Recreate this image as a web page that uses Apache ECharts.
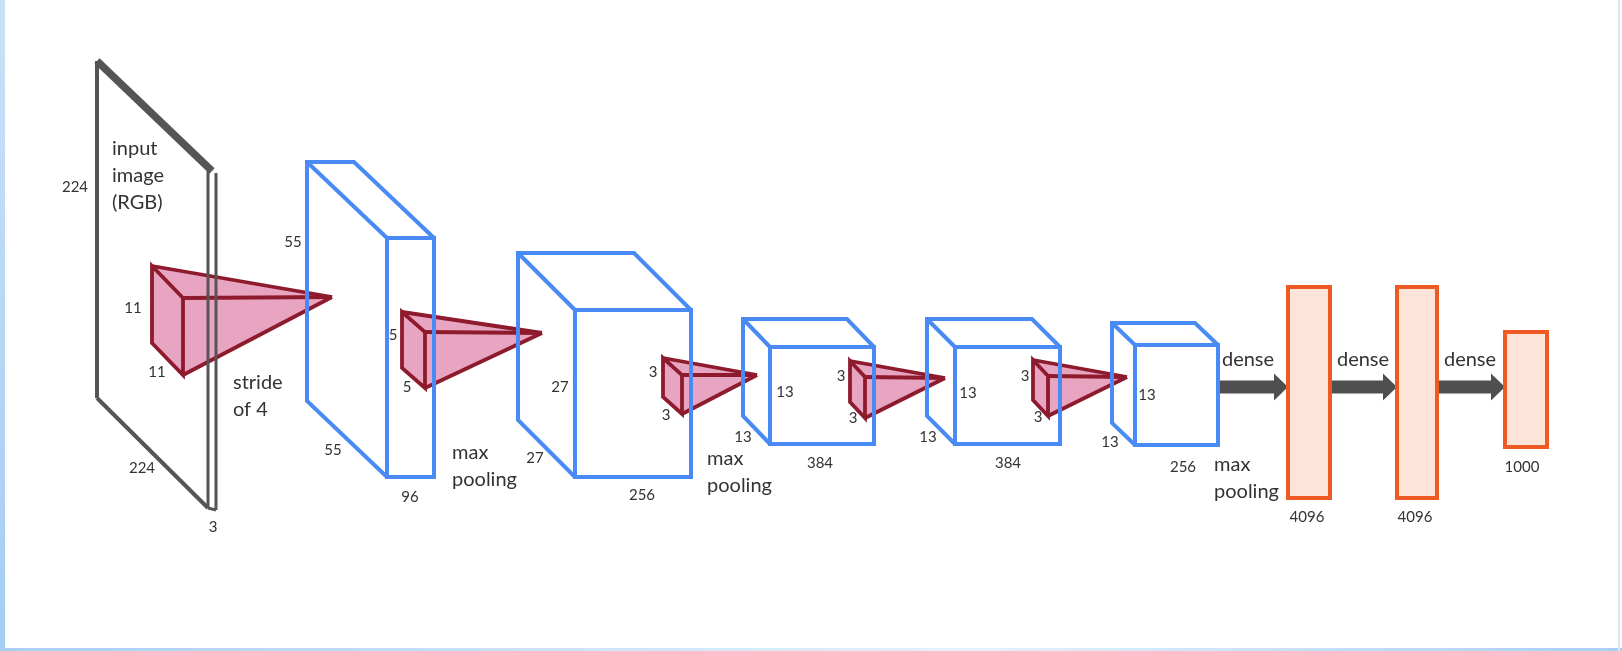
<!DOCTYPE html>
<html>
<head>
<meta charset="utf-8">
<title>AlexNet</title>
<script src="https://cdn.jsdelivr.net/npm/echarts@6/dist/echarts.min.js"></script>
<style>
  html, body { margin: 0; padding: 0; background: #fff; }
  #main { width: 1622px; height: 651px; }
</style>
</head>
<body>
<div id="main"></div>
<script>
// ---- values of the network ----
var inputSize = 224;
var inputChannels = 3;
var spatialDims = [55, 27, 13, 13, 13];       // conv block height / width
var channelDims = [96, 256, 384, 384, 256];   // conv block depth
var kernelSizes = [11, 5, 3, 3, 3];
var denseUnits = [4096, 4096, 1000];
var inputNote = 'input\nimage\n(RGB)';
var strideNote = 'stride\nof 4';
var poolNote = 'max\npooling';
var denseNote = 'dense';

// ---- layout, in pixel units of the hidden axes ----
// plane: left x, top y, front x, skew dy, height, thickness
var planeGeom = [97, 61, 208, 110, 337, 8];
// blocks: back x, back y, dx, dy, w, h
var blockGeom = [
  [307, 162, 80, 76, 47, 239],
  [518, 253, 57, 57, 116, 167],
  [743, 319, 27, 28, 104, 97],
  [927, 319, 28, 28, 105, 97],
  [1112, 323, 23, 22, 83, 100]
];
// kernels: back x, back y, dx, dy, h, apex x, apex y
var kernelGeom = [
  [152, 266, 31, 32, 77, 332, 297],
  [402, 312, 23, 20, 56, 542, 333],
  [663, 358, 19, 17, 39, 757, 375],
  [850, 361, 15, 16, 41, 945, 378],
  [1033, 360, 15, 16, 40, 1127, 377]
];
// dense boxes: x, y, w, h
var denseGeom = [
  [1288, 287, 42, 211],
  [1397, 287, 40, 211],
  [1505, 332, 42, 115]
];
// arrows: x start, x tip, y
var arrowGeom = [
  [1220, 1288, 387],
  [1330, 1397, 387],
  [1437, 1505, 387]
];
// label anchors
var planeLabelPos = [[75, 187], [142, 468], [213, 527]];
var blockLabelPos = [
  [[293, 242], [333, 450], [410, 497]],
  [[560, 387], [535, 458], [642, 495]],
  [[785, 392], [743, 437], [820, 463]],
  [[968, 393], [928, 437], [1008, 463]],
  [[1147, 395], [1110, 442], [1183, 467]]
];
var kernelLabelPos = [
  [[133, 308], [157, 372]],
  [[393, 335], [407, 387]],
  [[653, 372], [666, 415]],
  [[841, 376], [853, 418]],
  [[1025, 376], [1038, 417]]
];
var denseLabelPos = [[1307, 517], [1415, 517], [1522, 467]];
var denseNotePos = [[1248, 360], [1363, 360], [1470, 360]];
var inputNotePos = [112, 176];
var strideNotePos = [233, 396];
var poolNotePos = [[452, 466], [707, 472], [1214, 478]];

var BLUE = '#4a8af4';
var RED = '#8e1b2d';
var PINK = '#e8a5c2';
var GRAY = '#555555';
var ORANGE = '#ee5a24';
var TEXT = '#333333';
var FONT = 'Lato, "Open Sans", sans-serif';
var NUM_SIZE = 15;
var NOTE_SIZE = 20;

// build the text table
var labels = [];
labels.push([planeLabelPos[0], String(inputSize), NUM_SIZE, 'center']);
labels.push([planeLabelPos[1], String(inputSize), NUM_SIZE, 'center']);
labels.push([planeLabelPos[2], String(inputChannels), NUM_SIZE, 'center']);
blockLabelPos.forEach(function (p, i) {
  labels.push([p[0], String(spatialDims[i]), NUM_SIZE, 'center']);
  labels.push([p[1], String(spatialDims[i]), NUM_SIZE, 'center']);
  labels.push([p[2], String(channelDims[i]), NUM_SIZE, 'center']);
});
kernelLabelPos.forEach(function (p, i) {
  labels.push([p[0], String(kernelSizes[i]), NUM_SIZE, 'center']);
  labels.push([p[1], String(kernelSizes[i]), NUM_SIZE, 'center']);
});
denseLabelPos.forEach(function (p, i) {
  labels.push([p, String(denseUnits[i]), NUM_SIZE, 'center']);
});
denseNotePos.forEach(function (p) {
  labels.push([p, denseNote, NOTE_SIZE, 'center']);
});
labels.push([inputNotePos, inputNote, NOTE_SIZE, 'left']);
labels.push([strideNotePos, strideNote, NOTE_SIZE, 'left']);
poolNotePos.forEach(function (p) {
  labels.push([p, poolNote, NOTE_SIZE, 'left']);
});

function P(api, x, y) { return api.coord([x, y]); }

function lineEl(api, pts, color, width, closed) {
  return {
    type: closed ? 'polygon' : 'polyline',
    shape: { points: pts.map(function (q) { return P(api, q[0], q[1]); }) },
    style: { stroke: color, lineWidth: width, fill: closed ? 'none' : null, lineJoin: 'miter' }
  };
}

var chart = echarts.init(document.getElementById('main'), null, { renderer: 'canvas' });

var option = {
  backgroundColor: '#ffffff',
  animation: false,
  grid: { left: 0, right: 0, top: 0, bottom: 0 },
  xAxis: { type: 'value', min: 0, max: 1622, show: false },
  yAxis: { type: 'value', min: 0, max: 651, inverse: true, show: false },
  graphic: [
    {
      type: 'rect', shape: { x: 0, y: 0, width: 5, height: 651 }, z: 0,
      style: { fill: new echarts.graphic.LinearGradient(0, 0, 0, 1, [
        { offset: 0, color: '#c9e1f8' }, { offset: 1, color: '#a4cdf3' }]) }
    },
    { type: 'rect', shape: { x: 0, y: 648, width: 1622, height: 3 }, z: 0,
      style: { fill: new echarts.graphic.LinearGradient(0, 0, 1, 0, [
        { offset: 0, color: '#a8cff2' }, { offset: 0.6, color: '#e6f1fb' }, { offset: 1, color: '#a8cff2' }]) } },
    { type: 'rect', shape: { x: 1618, y: 0, width: 2, height: 651 }, z: 0, style: { fill: '#dfe8f0' } }
  ],
  series: [
    {
      // pink kernels (under the blocks)
      type: 'custom',
      coordinateSystem: 'cartesian2d',
      clip: false,
      z: 2,
      data: kernelGeom.map(function (g) { return [g[0], g[1]]; }),
      renderItem: function (params, api) {
        var g = kernelGeom[params.dataIndex];
        var bx = g[0], by = g[1], dx = g[2], dy = g[3], h = g[4], ax = g[5], ay = g[6];
        var fx = bx + dx, fy = by + dy;
        return {
          type: 'group',
          children: [
            {
              type: 'polygon',
              shape: { points: [P(api, bx, by), P(api, ax, ay), P(api, fx, fy + h), P(api, bx, by + h)] },
              style: { fill: PINK, stroke: null }
            },
            lineEl(api, [[bx, by], [fx, fy], [fx, fy + h], [bx, by + h]], RED, 3.8, true),
            lineEl(api, [[bx, by], [ax, ay]], RED, 3.8),
            lineEl(api, [[fx, fy], [ax, ay]], RED, 3.8),
            lineEl(api, [[fx, fy + h], [ax, ay]], RED, 3.8)
          ]
        };
      }
    },
    {
      // input image plane
      type: 'custom',
      coordinateSystem: 'cartesian2d',
      clip: false,
      z: 3,
      data: [[planeGeom[0], planeGeom[1]]],
      renderItem: function (params, api) {
        var g = planeGeom;
        var lx = g[0], ty = g[1], rx = g[2], sk = g[3], h = g[4], t = g[5];
        return {
          type: 'group',
          children: [
            lineEl(api, [[lx, ty + h], [lx, ty]], GRAY, 4),
            lineEl(api, [[lx, ty], [rx + t / 2, ty + sk]], GRAY, 7.5),
            lineEl(api, [[lx, ty + h], [rx, ty + h + sk]], GRAY, 4),
            lineEl(api, [[rx, ty + sk], [rx, ty + h + sk]], GRAY, 3),
            lineEl(api, [[rx + t, ty + sk + 2], [rx + t, ty + h + sk + 2]], GRAY, 3),
            lineEl(api, [[rx, ty + h + sk], [rx + t, ty + h + sk + 2]], GRAY, 3)
          ]
        };
      }
    },
    {
      // blue conv blocks
      type: 'custom',
      coordinateSystem: 'cartesian2d',
      clip: false,
      z: 4,
      data: blockGeom.map(function (g) { return [g[0], g[1]]; }),
      renderItem: function (params, api) {
        var g = blockGeom[params.dataIndex];
        var bx = g[0], by = g[1], dx = g[2], dy = g[3], w = g[4], h = g[5];
        var fx = bx + dx, fy = by + dy;
        return {
          type: 'group',
          children: [
            lineEl(api, [[fx, fy + h], [bx, by + h], [bx, by], [bx + w, by], [fx + w, fy]], BLUE, 4),
            lineEl(api, [[bx, by], [fx, fy]], BLUE, 4),
            lineEl(api, [[fx, fy], [fx + w, fy], [fx + w, fy + h], [fx, fy + h]], BLUE, 4, true)
          ]
        };
      }
    },
    {
      // dense layers
      type: 'custom',
      coordinateSystem: 'cartesian2d',
      clip: false,
      z: 4,
      data: denseGeom.map(function (g) { return [g[0], g[1]]; }),
      renderItem: function (params, api) {
        var g = denseGeom[params.dataIndex];
        var a = P(api, g[0], g[1]), b = P(api, g[0] + g[2], g[1] + g[3]);
        return {
          type: 'rect',
          shape: { x: a[0], y: a[1], width: b[0] - a[0], height: b[1] - a[1] },
          style: { fill: '#fde4d9', stroke: ORANGE, lineWidth: 4 }
        };
      }
    },
    {
      // dense arrows
      type: 'custom',
      coordinateSystem: 'cartesian2d',
      clip: false,
      z: 3,
      data: arrowGeom.map(function (g) { return [g[0], g[2]]; }),
      renderItem: function (params, api) {
        var g = arrowGeom[params.dataIndex];
        var x0 = g[0], x1 = g[1], y = g[2], hl = 14, st = 6.5, hh = 13.5;
        var pts = [[x0, y - st], [x1 - hl, y - st], [x1 - hl, y - hh], [x1, y],
                   [x1 - hl, y + hh], [x1 - hl, y + st], [x0, y + st]];
        return {
          type: 'polygon',
          shape: { points: pts.map(function (q) { return P(api, q[0], q[1]); }) },
          style: { fill: '#4f4f4f' }
        };
      }
    },
    {
      // all text
      type: 'custom',
      coordinateSystem: 'cartesian2d',
      clip: false,
      z: 6,
      data: labels.map(function (l) { return [l[0][0], l[0][1]]; }),
      renderItem: function (params, api) {
        var l = labels[params.dataIndex];
        var c = P(api, l[0][0], l[0][1]);
        return {
          type: 'text',
          x: c[0], y: c[1],
          style: {
            text: l[1],
            fill: TEXT,
            fontSize: l[2],
            fontFamily: FONT,
            lineHeight: l[2] === NOTE_SIZE ? 27 : 17,
            align: l[3],
            verticalAlign: 'middle'
          }
        };
      }
    }
  ]
};

chart.setOption(option);
</script>
</body>
</html>
